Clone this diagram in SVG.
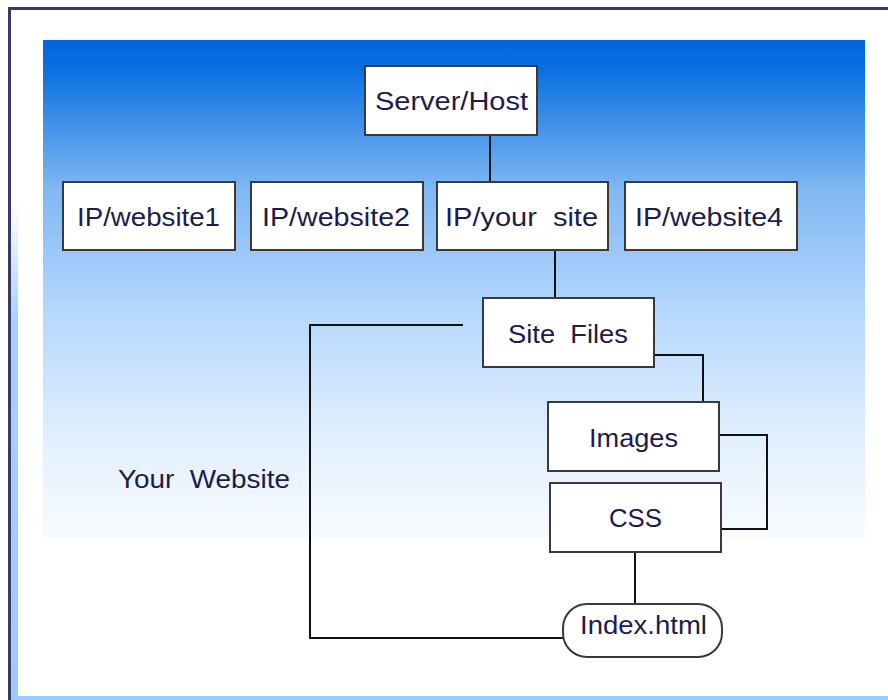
<svg xmlns="http://www.w3.org/2000/svg" width="888" height="700" viewBox="0 0 888 700">
  <defs>
    <linearGradient id="panelFill" x1="0" y1="0" x2="0" y2="1">
      <stop offset="0" stop-color="#0066dd"/>
      <stop offset="0.06" stop-color="#0a70e0"/>
      <stop offset="0.3" stop-color="#80b8f2"/>
      <stop offset="0.55" stop-color="#b6d8fd"/>
      <stop offset="0.8" stop-color="#e2effe"/>
      <stop offset="1" stop-color="#f8fbff"/>
    </linearGradient>
    <linearGradient id="edgeFill" x1="0" y1="0" x2="0" y2="1">
      <stop offset="0" stop-color="#ffffff"/>
      <stop offset="0.28" stop-color="#ffffff"/>
      <stop offset="0.45" stop-color="#a6d0ff"/>
      <stop offset="1" stop-color="#9ccbff"/>
    </linearGradient>
  </defs>
  <style>
    .box { fill: #ffffff; stroke: #3a3a3a; stroke-width: 2; }
    .link { fill: none; stroke: #111111; stroke-width: 2; }
    .label { font-family: "Liberation Sans", Arial, sans-serif; font-size: 25px; fill: #1c1c4e; }
  </style>

  <!-- page background and frame -->
  <rect x="0" y="0" width="888" height="700" fill="#ffffff"/>
  <rect x="11" y="10" width="7" height="690" fill="url(#edgeFill)"/>
  <rect x="11" y="696" width="877" height="4" fill="#9ccbff"/>
  <path d="M9.5 700 V8.5 H888" fill="none" stroke="#3a3a66" stroke-width="3"/>

  <!-- gradient panel -->
  <rect x="43" y="40" width="822" height="498" fill="url(#panelFill)"/>

  <!-- connectors -->
  <g id="connectors">
    <path class="link" d="M490 135 V182"/>
    <path class="link" d="M555 250 V298"/>
    <path class="link" d="M654 355 H703 V402"/>
    <path class="link" d="M720 435 H767 V529 H719"/>
    <path class="link" d="M635 553 V605"/>
    <path class="link" d="M463 325 H310 V638 H563"/>
  </g>

  <g id="server-host">
    <rect class="box" x="365" y="66" width="172" height="69"/>
    <text class="label" x="375" y="110" textLength="153" lengthAdjust="spacingAndGlyphs">Server/Host</text>
  </g>

  <g id="ip-website1">
    <rect class="box" x="63" y="182" width="172" height="68"/>
    <text class="label" x="77" y="226" textLength="143" lengthAdjust="spacingAndGlyphs">IP/website1</text>
  </g>

  <g id="ip-website2">
    <rect class="box" x="251" y="182" width="172" height="68"/>
    <text class="label" x="262" y="226" textLength="148" lengthAdjust="spacingAndGlyphs">IP/website2</text>
  </g>

  <g id="ip-your-site">
    <rect class="box" x="437" y="182" width="171" height="68"/>
    <text class="label" x="445" y="226" textLength="153" lengthAdjust="spacingAndGlyphs" xml:space="preserve">IP/your  site</text>
  </g>

  <g id="ip-website4">
    <rect class="box" x="625" y="182" width="172" height="68"/>
    <text class="label" x="635" y="226" textLength="148" lengthAdjust="spacingAndGlyphs">IP/website4</text>
  </g>

  <g id="site-files">
    <rect class="box" x="483" y="298" width="171" height="69"/>
    <text class="label" x="508" y="343" textLength="120" lengthAdjust="spacingAndGlyphs" xml:space="preserve">Site  Files</text>
  </g>

  <g id="images">
    <rect class="box" x="548" y="402" width="171" height="69"/>
    <text class="label" x="589" y="447" textLength="89" lengthAdjust="spacingAndGlyphs">Images</text>
  </g>

  <g id="css">
    <rect class="box" x="550" y="483" width="171" height="69"/>
    <text class="label" x="609" y="527" textLength="53" lengthAdjust="spacingAndGlyphs">CSS</text>
  </g>

  <g id="index-html">
    <rect class="box" x="563" y="604" width="159" height="53" rx="24" ry="24"/>
    <text class="label" x="580" y="634" textLength="127" lengthAdjust="spacingAndGlyphs">Index.html</text>
  </g>

  <g id="your-website">
    <text class="label" x="118" y="488" textLength="172" lengthAdjust="spacingAndGlyphs" xml:space="preserve">Your  Website</text>
  </g>
</svg>
